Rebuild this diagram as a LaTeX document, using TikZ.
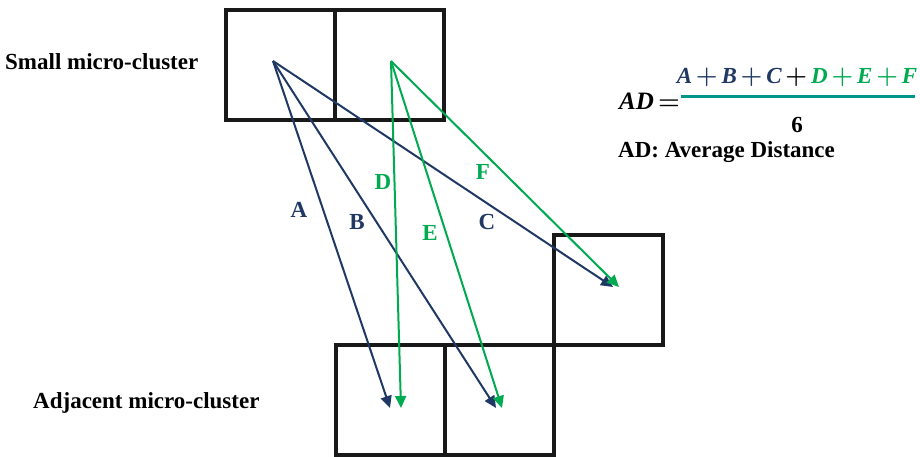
\documentclass[tikz,border=0pt]{standalone}
\usepackage{fontspec}
\setmainfont{Liberation Serif}
\usetikzlibrary{arrows.meta,positioning}
\definecolor{navy}{RGB}{31,56,100}
\definecolor{leaf}{RGB}{0,170,80}
\definecolor{tealline}{RGB}{0,150,140}

\begin{document}
\begin{tikzpicture}[x=1pt, y=-1pt,
    cell/.style={draw=black!90, line width=4pt, minimum width=109pt,
      minimum height=110pt, inner sep=0pt, outer sep=0pt},
    dist/.style={line width=2pt, -{Triangle[length=12pt,width=11pt]}},
    txt/.style={font=\fontsize{23}{26}\selectfont\bfseries, inner sep=0pt},
    lbl/.style={font=\fontsize{23}{26}\selectfont\bfseries, inner sep=1pt},
    eqn/.style={font=\fontsize{23}{26}\selectfont\bfseries\boldmath, inner sep=0pt}]
  \useasboundingbox (0,0) rectangle (920,457);
  % Cells
  \node[cell] (s1) at (280.5,65) {};
  \node[cell, right=0pt of s1] (s2) {};
  \node[cell] (a1) at (390,400) {};
  \node[cell, right=0pt of a1] (a2) {};
  \node[cell, anchor=south west] (a3) at (a2.north east) {};
  % Cluster names
  \node[txt, anchor=west] (small) at (5,62) {Small micro-cluster};
  \node[txt, anchor=west] (adj) at (33,403) {Adjacent micro-cluster};
  % Start and end points
  \coordinate (p1) at (273,61);
  \coordinate (p2) at (391,61);
  \coordinate (ea) at (390,408);
  \coordinate (eb) at (496,408);
  \coordinate (ec) at (613,287);
  \coordinate (ed) at (401,408);
  \coordinate (ee) at (502,408);
  \coordinate (ef) at (619,287);
  % Distances
  \draw[dist, navy] (p1) -- (ea);
  \draw[dist, navy] (p1) -- (eb);
  \draw[dist, navy] (p1) -- (ec);
  \draw[dist, leaf] (p2) -- (ed);
  \draw[dist, leaf] (p2) -- (ee);
  \draw[dist, leaf] (p2) -- (ef);
  % Labels
  \node[lbl, navy] (la) at (299,210) {A};
  \node[lbl, navy] (lb) at (357,222) {B};
  \node[lbl, navy] (lc) at (487,222) {C};
  \node[lbl, leaf] (ld) at (383,182) {D};
  \node[lbl, leaf] (le) at (430,233) {E};
  \node[lbl, leaf] (lf) at (483,172) {F};
  % Formula
  \node[eqn, anchor=west] (ad) at (619,101)
    {\fontsize{25}{28}\selectfont\itshape AD\,${=}$};
  \node[eqn] (num) at (797,77)
    {\itshape\textcolor{navy}{A\,${+}$\,B\,${+}$\,C}\,${+}$\,%
     \textcolor{leaf}{D\,${+}$\,E\,${+}$\,F}};
  \coordinate (fl) at (681,97);
  \coordinate (fr) at (915,97);
  \draw[tealline, line width=3pt] (fl) -- (fr);
  \node[eqn] (six) at (797,125) {6};
  \node[txt, anchor=west] (legend) at (618,152) {AD: Average Distance};
\end{tikzpicture}
\end{document}
